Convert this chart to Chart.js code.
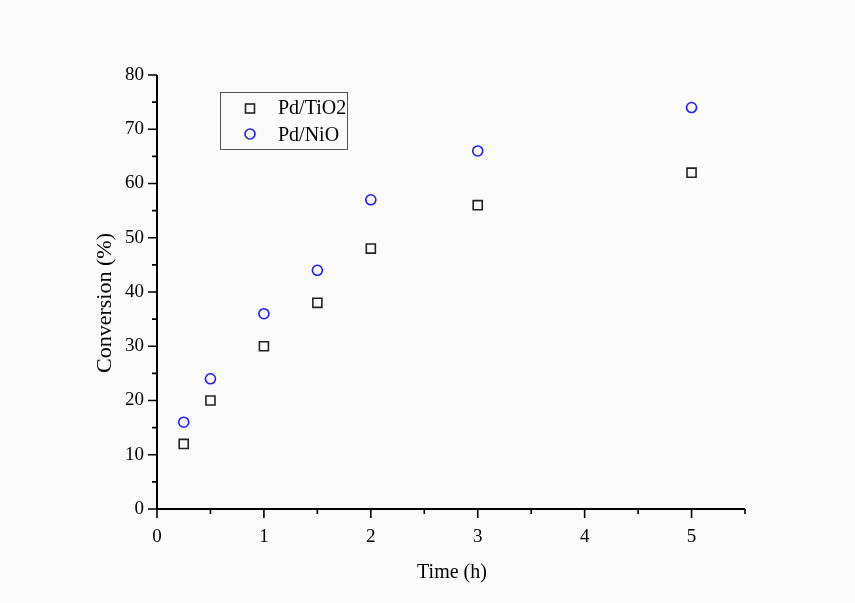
<!DOCTYPE html>
<html lang="en">
<head>
<meta charset="UTF-8">
<title>Conversion vs Time</title>
<script src="https://cdn.jsdelivr.net/npm/chart.js"></script>
<style>
    body { margin: 0; background: #fbfbfb; }
    #wrap { width: 855px; height: 603px; }
</style>
</head>
<body>
<div id="wrap"><canvas id="chart" width="855" height="603"></canvas></div>
<script>
    // data
    const times = [0.25, 0.5, 1, 1.5, 2, 3, 5];
    const tio2 = [12, 20, 30, 38, 48, 56, 62];
    const nio = [16, 24, 36, 44, 57, 66, 74];
    const xTicks = [0, 1, 2, 3, 4, 5];
    const xMinor = [0.5, 1.5, 2.5, 3.5, 4.5, 5.5];
    const yTicks = [0, 10, 20, 30, 40, 50, 60, 70, 80];
    const yMinor = [5, 15, 25, 35, 45, 55, 65, 75];

    const SERIF = '"Liberation Serif", "Times New Roman", serif';

    function pts(ys) {
        return times.map((t, i) => ({ x: t, y: ys[i] }));
    }

    // axes, ticks, labels and legend drawn by hand in the Origin style
    const originAxes = {
        id: 'originAxes',
        afterDraw(chart) {
            const ctx = chart.ctx;
            const xs = chart.scales.x, ys = chart.scales.y;
            const left = xs.left, right = xs.right, top = ys.top, bottom = ys.bottom;
            ctx.save();
            ctx.strokeStyle = '#000';
            ctx.fillStyle = '#000';
            ctx.lineWidth = 2;
            ctx.beginPath();
            ctx.moveTo(left, top);
            ctx.lineTo(left, bottom);
            ctx.lineTo(right, bottom);
            ctx.stroke();

            ctx.lineWidth = 1.6;
            ctx.beginPath();
            xTicks.forEach(v => { const p = xs.getPixelForValue(v); ctx.moveTo(p, bottom); ctx.lineTo(p, bottom + 9); });
            xMinor.forEach(v => { const p = xs.getPixelForValue(v); ctx.moveTo(p, bottom); ctx.lineTo(p, bottom + 5); });
            yTicks.forEach(v => { const p = ys.getPixelForValue(v); ctx.moveTo(left, p); ctx.lineTo(left - 9, p); });
            yMinor.forEach(v => { const p = ys.getPixelForValue(v); ctx.moveTo(left, p); ctx.lineTo(left - 5, p); });
            ctx.stroke();

            ctx.font = '19px ' + SERIF;
            ctx.textAlign = 'center';
            ctx.textBaseline = 'top';
            xTicks.forEach(v => ctx.fillText(String(v), xs.getPixelForValue(v), bottom + 19));
            ctx.textAlign = 'right';
            ctx.textBaseline = 'middle';
            yTicks.forEach(v => ctx.fillText(String(v), left - 13, ys.getPixelForValue(v)));

            ctx.textAlign = 'center';
            ctx.textBaseline = 'middle';
            ctx.font = '20px ' + SERIF;
            ctx.fillText('Time (h)', 452, 573);
            ctx.font = '22px ' + SERIF;
            ctx.translate(105, 303);
            ctx.rotate(-Math.PI / 2);
            ctx.fillText('Conversion (%)', 0, 0);
            ctx.restore();

            // legend box
            ctx.save();
            ctx.strokeStyle = '#555';
            ctx.lineWidth = 1;
            ctx.strokeRect(220.5, 92.5, 127, 57);
            ctx.lineWidth = 1.6;
            ctx.strokeStyle = '#222';
            ctx.strokeRect(245.5, 104, 9, 9);
            ctx.strokeStyle = '#1c1cff';
            ctx.beginPath();
            ctx.arc(250, 134, 5, 0, Math.PI * 2);
            ctx.stroke();
            ctx.fillStyle = '#000';
            ctx.font = '20px ' + SERIF;
            ctx.textAlign = 'left';
            ctx.textBaseline = 'middle';
            ctx.fillText('Pd/TiO2', 278, 109);
            ctx.fillText('Pd/NiO', 278, 136);
            ctx.restore();
        }
    };

    new Chart(document.getElementById('chart'), {
        type: 'scatter',
        data: {
            datasets: [
                {
                    label: 'Pd/TiO2',
                    data: pts(tio2),
                    pointStyle: 'rect',
                    radius: 6.4,
                    borderColor: '#222',
                    backgroundColor: 'rgba(0,0,0,0)',
                    borderWidth: 1.6
                },
                {
                    label: 'Pd/NiO',
                    data: pts(nio),
                    pointStyle: 'circle',
                    radius: 5,
                    borderColor: '#1c1cff',
                    backgroundColor: 'rgba(0,0,0,0)',
                    borderWidth: 1.6
                }
            ]
        },
        options: {
            responsive: false,
            animation: false,
            layout: { padding: { left: 157, right: 110, top: 75, bottom: 94 } },
            scales: {
                x: { display: false, min: 0, max: 5.5 },
                y: { display: false, min: 0, max: 80 }
            },
            plugins: {
                legend: { display: false },
                tooltip: { enabled: false }
            }
        },
        plugins: [originAxes]
    });
</script>
</body>
</html>
